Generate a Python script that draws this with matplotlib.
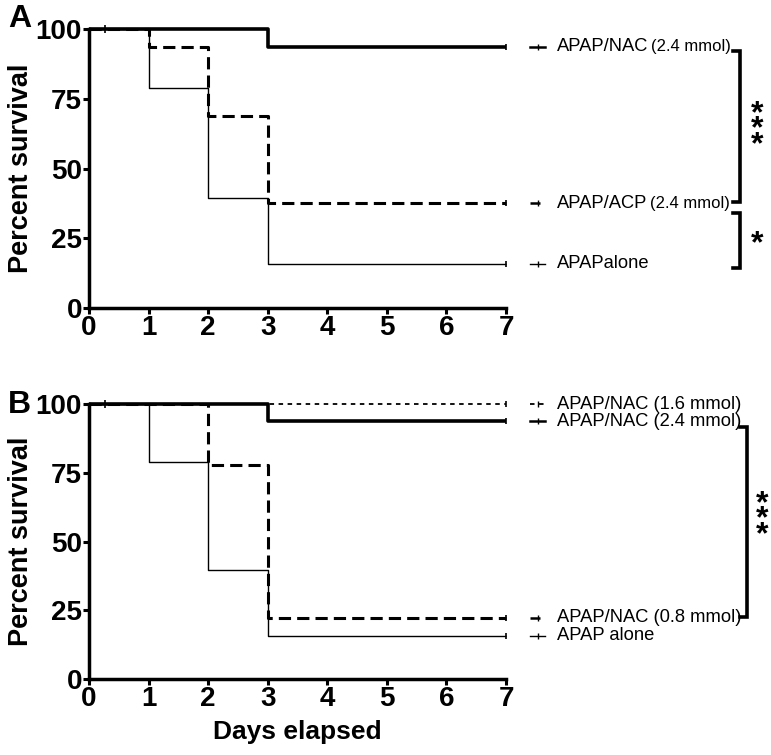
import numpy as np
import matplotlib
matplotlib.use("Agg")
import matplotlib.pyplot as plt

plt.rcParams['font.family'] = ['Liberation Sans', 'DejaVu Sans']

# ---- data (Kaplan-Meier steps, value holds from that day on) ----
days = [0, 1, 2, 3, 7]
censor_day = 0.27

a_labels = ["APAP/NAC", "APAP/ACP", "APAPalone"]
a_doses = ["(2.4 mmol)", "(2.4 mmol)", ""]
a_surv = [
    [100, 100, 100, 93.75, 93.75],
    [100, 93.75, 68.75, 37.5, 37.5],
    [100, 78.9, 39.5, 15.8, 15.8],
]

b_labels = ["APAP/NAC (1.6 mmol)", "APAP/NAC (2.4 mmol)", "APAP/NAC (0.8 mmol)", "APAP alone"]
b_surv = [
    [100, 100, 100, 100, 100],
    [100, 100, 100, 93.75, 93.75],
    [100, 100, 77.8, 22.2, 22.2],
    [100, 78.9, 39.5, 15.8, 15.8],
]

xticks = [0, 1, 2, 3, 4, 5, 6, 7]
yticks = [0, 25, 50, 75, 100]

# line styles
thick = dict(color="black", lw=2.6, ls="-")
dashed = dict(color="black", lw=2.2, ls=(0, (4, 2)))
thin = dict(color="black", lw=1.0, ls="-")
dotted = dict(color="black", lw=1.3, ls=(0, (2.5, 2.5)))

a_styles = [thick, dashed, thin]
b_styles = [dotted, thick, dashed, thin]


def setup_axes(ax):
    ax.set_xlim(0, 7)
    ax.set_ylim(0, 100)
    ax.set_xticks(xticks)
    ax.set_yticks(yticks)
    for s in ["top", "right"]:
        ax.spines[s].set_visible(False)
    for s in ["left", "bottom"]:
        ax.spines[s].set_linewidth(2.5)
    ax.tick_params(width=2.2, length=4, labelsize=20, pad=1)
    for lab in ax.get_xticklabels() + ax.get_yticklabels():
        lab.set_fontweight("bold")
    ax.set_ylabel("Percent survival", fontsize=19.5, fontweight="bold")
    ax.yaxis.set_label_coords(-0.132, 0.5)


def draw_curves(ax, surv, styles):
    for s, st in zip(surv, styles):
        ax.step(days, s, where="post", clip_on=False, solid_capstyle="butt", **st)
        ax.plot([7], [s[-1]], marker="|", ms=5, mew=1.2, color="black", clip_on=False)
    ax.plot([censor_day], [100], marker="|", ms=6, mew=1.2, color="black", clip_on=False)


def legend_item(ax, y, st, text, small=None):
    ax.plot([7.4, 7.65], [y, y], clip_on=False, **dict(st, lw=min(st["lw"], 1.8)))
    ax.plot([7.53], [y], marker="|", ms=4, mew=1.0, color="black", clip_on=False)
    t = ax.text(7.85, y, text, fontsize=13.2, va="center", ha="left", clip_on=False)
    if small:
        ax.annotate(small, xy=(1, 0.5), xycoords=t, xytext=(2, 0),
                    textcoords="offset points", fontsize=12, va="center", ha="left")
    return t


def bracket(ax, x, y0, y1, tick=0.12):
    ax.plot([x - tick, x, x, x - tick], [y0, y0, y1, y1], color="black", lw=2.6,
            clip_on=False, solid_joinstyle="miter")


def stars(ax, x, y, n):
    ax.text(x, y, "\n".join(["*"] * n), fontsize=23, fontweight="bold", ha="center",
            va="center", linespacing=0.36, clip_on=False)


fig = plt.figure(figsize=(7.71, 7.55), dpi=100)
axA = fig.add_axes([0.1154, 0.592, 0.541, 0.3695])
axB = fig.add_axes([0.1154, 0.1007, 0.541, 0.364])

# ---- panel A ----
setup_axes(axA)
draw_curves(axA, a_surv, a_styles)
for lab, dose, s, st in zip(a_labels, a_doses, a_surv, a_styles):
    legend_item(axA, s[-1], st, lab, small=dose if dose else None)
bracket(axA, 10.92, a_surv[0][-1] - 1.5, a_surv[1][-1] + 0.5)
bracket(axA, 10.92, a_surv[1][-1] - 3.5, a_surv[2][-1] - 1.5)
stars(axA, 11.22, 64, 3)
stars(axA, 11.22, 23, 1)

# ---- panel B ----
setup_axes(axB)
draw_curves(axB, b_surv, b_styles)
for lab, s, st in zip(b_labels, b_surv, b_styles):
    legend_item(axB, s[-1], st, lab)
bracket(axB, 11.04, b_surv[1][-1] - 2.0, b_surv[2][-1] + 0.5)
stars(axB, 11.3, 58, 3)
axB.set_xlabel("Days elapsed", fontsize=19, fontweight="bold", labelpad=6)

fig.text(0.01, 0.995, "A", fontsize=23, fontweight="bold", va="top", ha="left")
fig.text(0.01, 0.484, "B", fontsize=23, fontweight="bold", va="top", ha="left")

fig.savefig("out.png", dpi=100)
